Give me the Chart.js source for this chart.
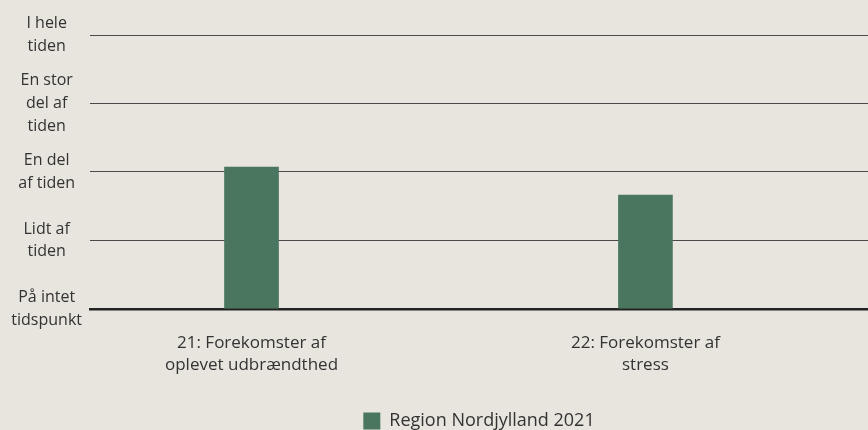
<!DOCTYPE html>
<html lang="da">
<head>
  <meta charset="UTF-8">
  <title>Region Nordjylland 2021</title>
  <script src="https://cdn.jsdelivr.net/npm/chart.js"></script>
  <style>
    html, body {
      margin: 0;
      padding: 0;
      background: #e8e5de;
    }
    .chart-box {
      width: 868px;
      height: 430px;
      position: relative;
    }
  </style>
</head>
<body>
  <div class="chart-box">
    <canvas id="chart"></canvas>
  </div>

  <script>
    // Data
    const categories = [
      ['21: Forekomster af', 'oplevet udbrændthed'],
      ['22: Forekomster af', 'stress']
    ];
    const categoryPositions = [0, 1];
    const nordjylland2021 = [3.07, 2.66];
    const scaleLabels = {
      1: ['På intet', 'tidspunkt'],
      2: ['Lidt af', 'tiden'],
      3: ['En del', 'af tiden'],
      4: ['En stor', 'del af', 'tiden'],
      5: ['I hele', 'tiden']
    };

    const textColor = '#333333';
    const fontFamily = '"Open Sans"';

    const ctx = document.getElementById('chart').getContext('2d');
    new Chart(ctx, {
      type: 'bar',
      data: {
        datasets: [{
          label: 'Region Nordjylland 2021',
          data: categoryPositions.map((x, i) => ({ x: x, y: nordjylland2021[i] })),
          backgroundColor: '#4a765f',
          borderWidth: 0,
          barThickness: 54,
          base: 1
        }]
      },
      options: {
        responsive: true,
        maintainAspectRatio: false,
        animation: false,
        layout: { padding: { top: 35, right: 0, left: 0, bottom: -10 } },
        scales: {
          x: {
            type: 'linear',
            offset: false,
            min: -0.41,
            max: 1.565,
            afterBuildTicks: scale => {
              scale.ticks = categoryPositions.map(v => ({ value: v }));
            },
            afterFit: scale => { scale.height += 18; },
            grid: { display: false },
            border: { display: true, color: '#222222', width: 2.5 },
            ticks: {
              color: textColor,
              font: { family: fontFamily, size: 17, lineHeight: 1.3 },
              padding: 15,
              maxRotation: 0,
              autoSkip: false,
              callback: value => categories[value]
            }
          },
          y: {
            min: 1,
            max: 5,
            afterFit: scale => { scale.width = 90; },
            grid: {
              color: ctx => ctx.tick && ctx.tick.value === 1 ? 'rgba(0,0,0,0)' : '#4a4a4a',
              lineWidth: 1,
              drawTicks: false
            },
            border: { display: false },
            ticks: {
              stepSize: 1,
              autoSkip: false,
              color: textColor,
              font: { family: fontFamily, size: 16, lineHeight: 1.42 },
              crossAlign: 'center',
              padding: 8,
              callback: value => scaleLabels[value]
            }
          }
        },
        plugins: {
          legend: {
            position: 'bottom',
            fullSize: false,
            labels: {
              color: textColor,
              font: { family: fontFamily, size: 18 },
              boxWidth: 17,
              boxHeight: 17,
              padding: 3
            }
          },
          tooltip: { enabled: false }
        }
      }
    });
  </script>
</body>
</html>
